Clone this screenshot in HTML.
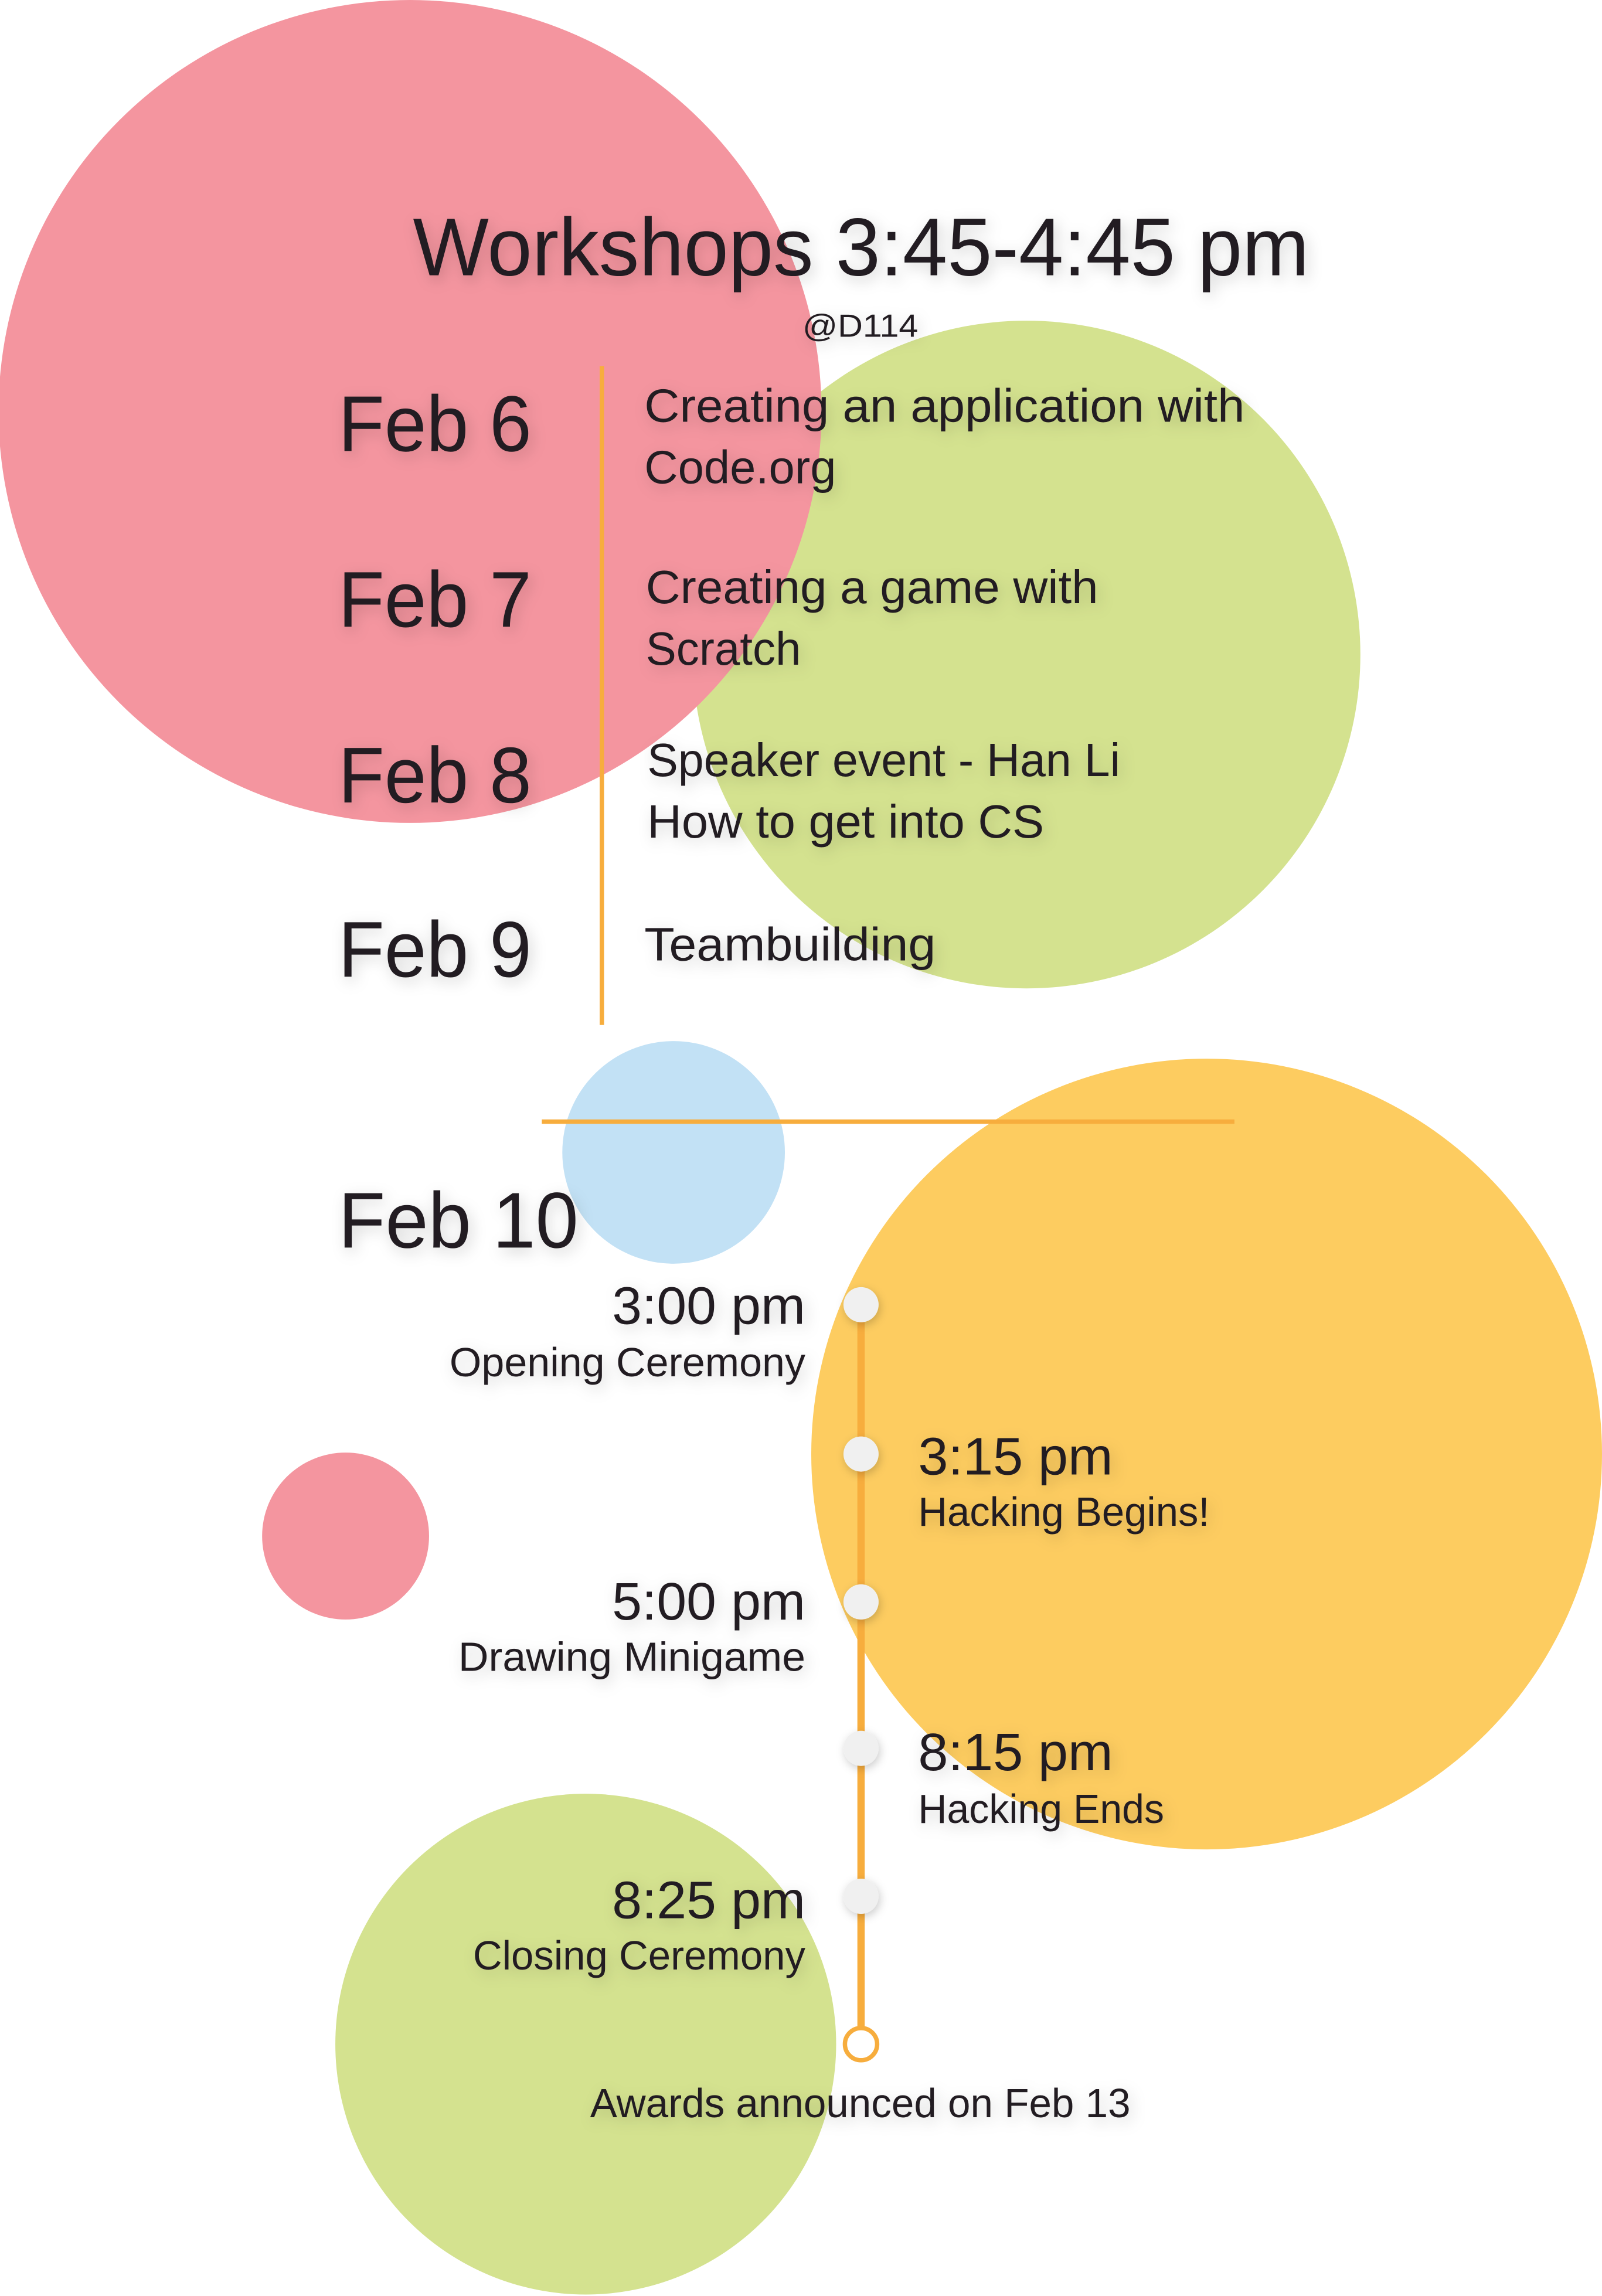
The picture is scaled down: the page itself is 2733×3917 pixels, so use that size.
<!DOCTYPE html>
<html><head><meta charset="utf-8"><style>
html,body{margin:0;padding:0;background:#fff;}
svg{display:block;}
text{font-family:"Liberation Sans",sans-serif;fill:#231f20;}
</style></head><body>
<svg width="2733" height="3917" viewBox="0 0 1094 1568" preserveAspectRatio="none">
<defs>
<filter id="sh" x="-20%" y="-50%" width="140%" height="200%">
<feDropShadow dx="2" dy="3" stdDeviation="5" flood-color="#000" flood-opacity="0.18"/>
</filter>
<filter id="dsh" filterUnits="userSpaceOnUse" x="0" y="0" width="1094" height="1568">
<feDropShadow dx="1" dy="2" stdDeviation="3" flood-color="#000" flood-opacity="0.2"/>
</filter>
</defs>
<circle cx="701" cy="447" r="228" fill="#d4e28f"/>
<circle cx="280" cy="281" r="281" fill="#f4959f"/>
<circle cx="460" cy="787" r="76" fill="#c2e1f5"/>
<circle cx="824" cy="993" r="270" fill="#fdcc60"/>
<circle cx="236" cy="1049" r="57" fill="#f4959f"/>
<circle cx="400" cy="1396" r="171" fill="#d4e28f"/>

<line x1="411" y1="250" x2="411" y2="700" stroke="#f7ad3d" stroke-width="3"/>
<line x1="370" y1="766" x2="843" y2="766" stroke="#f7ad3d" stroke-width="3"/>
<line x1="588" y1="891" x2="588" y2="1396" stroke="#f7ad3d" stroke-width="5"/>

<g filter="url(#sh)">
<text x="282" y="188" font-size="56" textLength="612" lengthAdjust="spacingAndGlyphs">Workshops 3:45-4:45 pm</text>
<text x="548" y="230" font-size="22" textLength="79" lengthAdjust="spacingAndGlyphs">@D114</text>
<text x="231" y="308" font-size="54" textLength="132" lengthAdjust="spacingAndGlyphs">Feb 6</text>
<text x="231" y="428" font-size="54" textLength="132" lengthAdjust="spacingAndGlyphs">Feb 7</text>
<text x="231" y="548" font-size="54" textLength="132" lengthAdjust="spacingAndGlyphs">Feb 8</text>
<text x="231" y="667" font-size="54" textLength="132" lengthAdjust="spacingAndGlyphs">Feb 9</text>
<text x="231" y="852" font-size="54" textLength="164" lengthAdjust="spacingAndGlyphs">Feb 10</text>

<text x="440" y="288" font-size="32" textLength="410" lengthAdjust="spacingAndGlyphs">Creating an application with</text>
<text x="440" y="330" font-size="32" textLength="131" lengthAdjust="spacingAndGlyphs">Code.org</text>
<text x="441" y="412" font-size="32" textLength="309" lengthAdjust="spacingAndGlyphs">Creating a game with</text>
<text x="441" y="454" font-size="32" textLength="106" lengthAdjust="spacingAndGlyphs">Scratch</text>
<text x="442" y="530" font-size="32" textLength="323" lengthAdjust="spacingAndGlyphs">Speaker event - Han Li</text>
<text x="442" y="572" font-size="32" textLength="271" lengthAdjust="spacingAndGlyphs">How to get into CS</text>
<text x="440" y="656" font-size="32" textLength="199" lengthAdjust="spacingAndGlyphs">Teambuilding</text>

<text x="418" y="904" font-size="36" textLength="132" lengthAdjust="spacingAndGlyphs">3:00 pm</text>
<text x="307" y="940" font-size="28" textLength="243" lengthAdjust="spacingAndGlyphs">Opening Ceremony</text>
<text x="627" y="1007" font-size="36" textLength="133" lengthAdjust="spacingAndGlyphs">3:15 pm</text>
<text x="627" y="1042" font-size="28" textLength="199" lengthAdjust="spacingAndGlyphs">Hacking Begins!</text>
<text x="418" y="1106" font-size="36" textLength="132" lengthAdjust="spacingAndGlyphs">5:00 pm</text>
<text x="313" y="1141" font-size="28" textLength="237" lengthAdjust="spacingAndGlyphs">Drawing Minigame</text>
<text x="627" y="1209" font-size="36" textLength="133" lengthAdjust="spacingAndGlyphs">8:15 pm</text>
<text x="627" y="1245" font-size="28" textLength="168" lengthAdjust="spacingAndGlyphs">Hacking Ends</text>
<text x="418" y="1310" font-size="36" textLength="132" lengthAdjust="spacingAndGlyphs">8:25 pm</text>
<text x="323" y="1345" font-size="28" textLength="227" lengthAdjust="spacingAndGlyphs">Closing Ceremony</text>
<text x="403" y="1446" font-size="28" textLength="369" lengthAdjust="spacingAndGlyphs">Awards announced on Feb 13</text>
</g>
<g filter="url(#dsh)">
<circle cx="588" cy="891" r="12" fill="#f0f0f0"/>
<circle cx="588" cy="993" r="12" fill="#f0f0f0"/>
<circle cx="588" cy="1094" r="12" fill="#f0f0f0"/>
<circle cx="588" cy="1194" r="12" fill="#f0f0f0"/>
<circle cx="588" cy="1295" r="12" fill="#f0f0f0"/>
</g>
<circle cx="588" cy="1396" r="11" fill="#fff" stroke="#f7ad3d" stroke-width="3"/>
</svg>
</body></html>
